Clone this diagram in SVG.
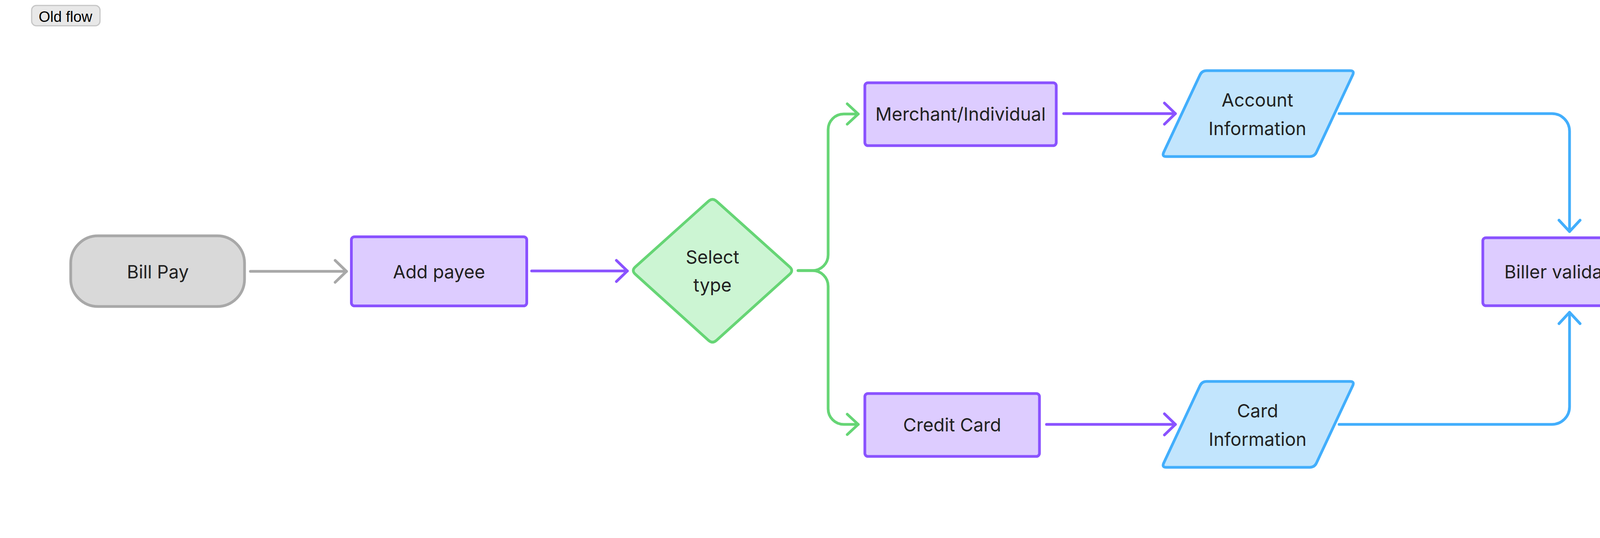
<svg xmlns="http://www.w3.org/2000/svg" width="5350" height="1378" viewBox="0 0 5350 1378">
<style>
.bg{fill:#ffffff}
.term{fill:#d9d9d9;stroke:#a8a8a8;stroke-width:7}
.proc{fill:#ddccff;stroke:#8a52ff;stroke-width:7}
.dec{fill:#ccf5d3;stroke:#66d575;stroke-width:7}
.io{fill:#c2e5fd;stroke:#42aefc;stroke-width:7}
.lbl{font-family:Inter,"Liberation Sans",sans-serif;font-size:46.5px;fill:#222222;text-anchor:middle}
.tag{fill:#e8e8e8;stroke:#c6c6c6;stroke-width:3}
.tagtxt{font-family:"Liberation Sans",Arial,sans-serif;font-size:38px;fill:#000000}
.c{fill:none;stroke-width:7;stroke-linecap:round;stroke-linejoin:round}
.gray{stroke:#a8a8a8}
.purple{stroke:#8a52ff}
.green{stroke:#66d575}
.blue{stroke:#42aefc}
</style>
<defs>
<marker id="ah-gray" viewBox="-40 -40 50 80" refX="0" refY="0" markerWidth="50" markerHeight="80" markerUnits="userSpaceOnUse" orient="auto" overflow="visible"><path d="M-29,-28 L0,0 L-29,28" fill="none" stroke="#a8a8a8" stroke-width="7" stroke-linecap="round" stroke-linejoin="round"/></marker>
<marker id="ah-purple" viewBox="-40 -40 50 80" refX="0" refY="0" markerWidth="50" markerHeight="80" markerUnits="userSpaceOnUse" orient="auto" overflow="visible"><path d="M-28,-27 L0,0 L-28,27" fill="none" stroke="#8a52ff" stroke-width="7" stroke-linecap="round" stroke-linejoin="round"/></marker>
<marker id="ah-green" viewBox="-40 -40 50 80" refX="0" refY="0" markerWidth="50" markerHeight="80" markerUnits="userSpaceOnUse" orient="auto" overflow="visible"><path d="M-28,-26 L0,0 L-28,26" fill="none" stroke="#66d575" stroke-width="7" stroke-linecap="round" stroke-linejoin="round"/></marker>
<marker id="ah-blue" viewBox="-40 -40 50 80" refX="0" refY="0" markerWidth="50" markerHeight="80" markerUnits="userSpaceOnUse" orient="auto" overflow="visible"><path d="M-29,-27 L0,0 L-29,27" fill="none" stroke="#42aefc" stroke-width="7" stroke-linecap="round" stroke-linejoin="round"/></marker>
</defs>
<rect class="bg" x="0" y="0" width="5350" height="1378"/>
<g id="tag-old-flow">
<rect class="tag" x="81" y="14" width="175" height="52" rx="12"/>
<text class="tagtxt" x="99" y="56">Old flow</text>
</g>
<g id="connectors">
<path class="c gray" d="M641,695 H887" marker-end="url(#ah-gray)"/>
<path class="c purple" d="M1361,694 H1606" marker-end="url(#ah-purple)"/>
<path class="c green" d="M2043,693 H2080 A40,40 0 0 0 2120,653 V332 A40,40 0 0 1 2160,292 H2197" marker-end="url(#ah-green)"/>
<path class="c green" d="M2043,693 H2080 A40,40 0 0 1 2120,733 V1047 A40,40 0 0 0 2160,1087 H2197" marker-end="url(#ah-green)"/>
<path class="c purple" d="M2723,291 H3009" marker-end="url(#ah-purple)"/>
<path class="c purple" d="M2679,1087 H3009" marker-end="url(#ah-purple)"/>
<path class="c blue" d="M3428,291 H3973 A45,45 0 0 1 4018,336 V593" marker-end="url(#ah-blue)"/>
<path class="c blue" d="M3428,1087 H3973 A45,45 0 0 0 4018,1042 V800" marker-end="url(#ah-blue)"/>
<path class="c purple" d="M4256,697 H4422" marker-end="url(#ah-purple)"/>
</g>
<g id="node-bill-pay">
<rect class="term" x="181" y="604" width="445" height="181" rx="70" ry="70"/>
<text class="lbl" x="404" y="713">Bill Pay</text>
</g>
<g id="node-add-payee">
<rect class="proc" x="899.5" y="606.5" width="449" height="177" rx="8"/>
<text class="lbl" x="1124" y="713">Add payee</text>
</g>
<g id="node-select-type">
<path class="dec" d="M1813.6,515.4 Q1824,506 1834.4,515.4 L2021.6,683.6 Q2032,693 2021.6,702.4 L1834.4,871.6 Q1824,881 1813.6,871.6 L1626.4,702.4 Q1616,693 1626.4,683.6 Z"/>
<text class="lbl" x="1824" y="675">Select</text>
<text class="lbl" x="1824" y="747">type</text>
</g>
<g id="node-merchant">
<rect class="proc" x="2214" y="212" width="490" height="161" rx="8"/>
<text class="lbl" x="2459" y="309">Merchant/Individual</text>
</g>
<g id="node-credit-card">
<rect class="proc" x="2214" y="1008" width="447" height="161" rx="8"/>
<text class="lbl" x="2437.5" y="1105">Credit Card</text>
</g>
<g id="node-account-info">
<path class="io" d="M3089,181 L3456,181 Q3468,181 3462.9,191.9 L3370.1,390.1 Q3365,401 3353,401 L2986,401 Q2974,401 2979.1,390.1 L3071.9,191.9 Q3077,181 3089,181 Z"/>
<text class="lbl" x="3219" y="273">Account</text>
<text class="lbl" x="3219" y="346">Information</text>
</g>
<g id="node-card-info">
<path class="io" d="M3089,977 L3456,977 Q3468,977 3462.9,987.9 L3370.1,1186.1 Q3365,1197 3353,1197 L2986,1197 Q2974,1197 2979.1,1186.1 L3071.9,987.9 Q3077,977 3089,977 Z"/>
<text class="lbl" x="3219.5" y="1069">Card</text>
<text class="lbl" x="3219.5" y="1142">Information</text>
</g>
<g id="node-biller-validation">
<rect class="proc" x="3796" y="609" width="443" height="174" rx="8"/>
<text class="lbl" x="4017.5" y="713">Biller validation</text>
</g>
<g id="node-confirmation">
<rect class="term" x="4436" y="606" width="542" height="182" rx="70" ry="70"/>
<text class="lbl" x="4707" y="715">Confirmation</text>
</g>
</svg>
